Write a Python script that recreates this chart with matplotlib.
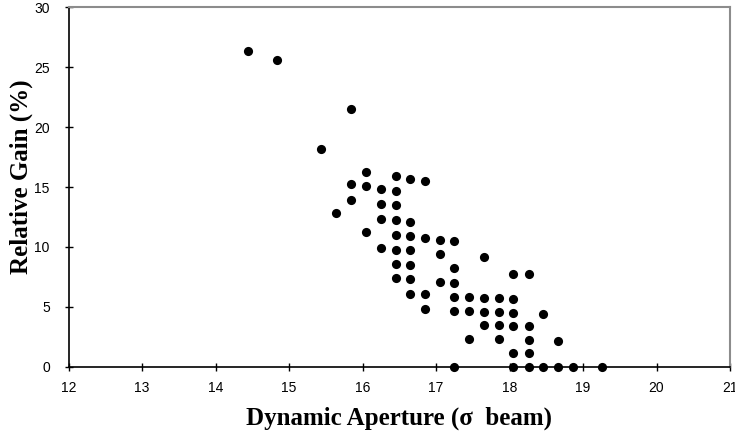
import matplotlib
matplotlib.use("Agg")
import matplotlib.pyplot as plt

# ------------------------------------------------
# Data
# ------------------------------------------------
aperture = [
    14.44, 14.84, 15.85, 15.44,
    16.05, 16.46, 16.64, 16.85,
    15.85, 16.05, 16.25, 16.46,
    15.85, 16.25, 16.46,
    15.64, 16.25, 16.46, 16.64,
    16.05, 16.46, 16.64, 16.85, 17.05, 17.25,
    16.25, 16.46, 16.64, 17.05,
    17.65,
    16.46, 16.64, 17.25,
    18.05, 18.26,
    16.46, 16.64, 17.05, 17.25,
    16.64, 16.85, 17.25, 17.45, 17.65, 17.86, 18.05,
    16.85, 17.25, 17.45, 17.65, 17.86, 18.05, 18.46,
    17.65, 17.86, 18.05, 18.26,
    17.45, 17.86, 18.26, 18.66,
    18.05, 18.26,
    17.25, 18.05, 18.26, 18.46, 18.66, 18.86, 19.26,
]
gain = [
    26.33, 25.61, 21.50, 18.17,
    16.25, 15.89, 15.64, 15.47,
    15.22, 15.08, 14.86, 14.64,
    13.92, 13.61, 13.47,
    12.83, 12.36, 12.22, 12.08,
    11.25, 10.97, 10.89, 10.75, 10.61, 10.47,
    9.92, 9.78, 9.72, 9.45,
    9.14,
    8.61, 8.53, 8.20,
    7.78, 7.72,
    7.42, 7.31, 7.08, 7.00,
    6.11, 6.06, 5.83, 5.78, 5.75, 5.72, 5.67,
    4.78, 4.67, 4.64, 4.58, 4.53, 4.47, 4.39,
    3.47, 3.45, 3.42, 3.36,
    2.31, 2.28, 2.22, 2.17,
    1.17, 1.14,
    0.0, 0.0, 0.0, 0.0, 0.0, 0.0, 0.0,
]

x_ticks = list(range(12, 22))
y_ticks = list(range(0, 31, 5))

# ------------------------------------------------
# Plot
# ------------------------------------------------
fig = plt.figure(figsize=(7.35, 4.36), dpi=100)
ax = fig.add_axes([0.0932, 0.159, 0.900, 0.824])

ax.plot(aperture, gain, "o", color="black", markersize=6.6,
        markeredgewidth=0, clip_on=False, zorder=3)

ax.set_xlim(12, 21)
ax.set_ylim(0, 30)
ax.set_xticks(x_ticks)
ax.set_yticks(y_ticks)

tick_font = {"family": "Liberation Sans", "size": 10}
ax.set_xticklabels([str(t) for t in x_ticks], fontdict=tick_font)
ax.set_yticklabels([str(t) for t in y_ticks], fontdict=tick_font)
ax.tick_params(direction="inout", length=6, width=1, color="black")
ax.tick_params(axis="x", pad=7.5)
ax.tick_params(axis="y", pad=10.5)

for side in ["top", "right"]:
    ax.spines[side].set_color("#8c8c8c")
    ax.spines[side].set_linewidth(1.5)
for side in ["left", "bottom"]:
    ax.spines[side].set_color("black")
    ax.spines[side].set_linewidth(1.2)

label_font = {"family": "Liberation Serif", "size": 18, "weight": "bold"}
ax.set_xlabel("Dynamic Aperture (σ  beam)", fontdict=label_font)
ax.set_ylabel("Relative Gain (%)", fontdict=label_font)
ax.xaxis.set_label_coords(0.5, -0.112)
ax.yaxis.set_label_coords(-0.071, 0.528)
ax.yaxis.label.set_verticalalignment("center")

fig.savefig("out.png", dpi=100, facecolor="white")
